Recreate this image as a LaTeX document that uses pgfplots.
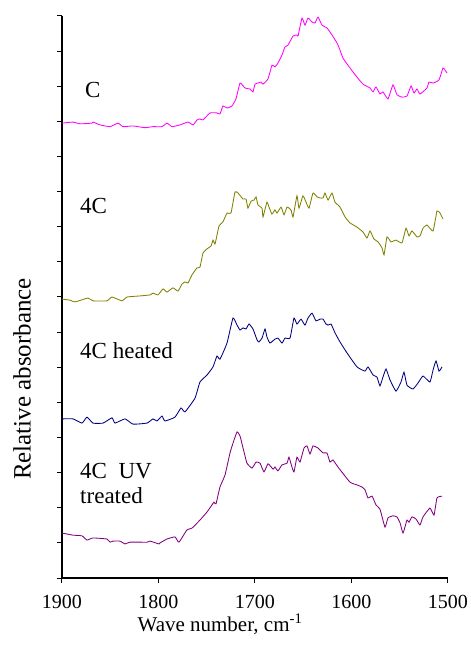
\documentclass[border=0pt]{standalone}
\usepackage{pgfplots}
\pgfplotsset{compat=1.18}
\usepackage{fontspec}
\setmainfont{Liberation Serif}

\definecolor{cC}{RGB}{255,0,255}
\definecolor{c4C}{RGB}{128,128,0}
\definecolor{cHeat}{RGB}{0,0,128}
\definecolor{cUV}{RGB}{128,0,128}

\begin{document}
\begin{tikzpicture}
\begin{axis}[
  scale only axis, width=386pt, height=562pt,
  x dir=reverse, xmin=1500, xmax=1900, ymin=0, ymax=16,
  axis x line*=bottom, axis y line*=left,
  axis line style={black, line width=1.3pt, -},
  xtick={1500,1600,1700,1800,1900},
  ytick={0,1,...,16}, yticklabels={},
  tick align=outside, major tick length=5pt,
  tick style={black, line width=1pt},
  /pgf/number format/assume math mode=true,
  /pgf/number format/1000 sep={},
  xticklabel style={font=\fontsize{20}{24}\selectfont, yshift=-9pt},
  every axis plot/.append style={line width=0.85pt, mark=none, smooth, tension=0.25},
  clip=false,
]
% C
\addplot[cC] coordinates {
(1900,12.95) (1888.6,12.98) (1881.3,12.93) (1868.9,12.95) (1867.9,12.98)
(1860.6,12.90) (1850.2,12.85) (1842.0,12.95) (1836.8,12.85) (1826.4,12.87)
(1814.0,12.82) (1805.7,12.85) (1796.4,12.85) (1791.2,12.95) (1786.0,12.85)
(1777.7,12.90) (1769.4,12.98) (1764.2,12.90) (1760.1,13.04) (1757.0,13.07)
(1753.9,13.04) (1746.6,13.24) (1739.4,13.24) (1736.3,13.21) (1733.2,13.44)
(1729.0,13.38) (1723.8,13.44) (1719.7,13.64) (1715.5,14.09) (1710.4,13.95)
(1705.2,13.92) (1702.1,13.84) (1700.0,14.06) (1696.9,14.09) (1693.8,14.12)
(1691.7,14.06) (1686.5,14.21) (1682.4,14.60) (1679.3,14.55) (1676.2,14.66)
(1672.0,14.89) (1668.9,15.12) (1665.8,15.17) (1660.6,15.43) (1656.5,15.46)
(1655.4,15.43) (1651.3,15.94) (1648.2,15.74) (1645.1,15.94) (1640.9,15.83)
(1637.8,15.80) (1634.7,15.97) (1630.6,15.74) (1625.4,15.66) (1620.2,15.46)
(1615.0,15.23) (1611.9,15.03) (1608.8,14.80) (1601.6,14.52) (1594.3,14.26)
(1588.1,14.06) (1580.8,13.95) (1577.7,13.84) (1574.6,13.98) (1570.5,13.78)
(1567.4,13.84) (1562.2,13.64) (1557.0,14.04) (1552.9,13.76) (1547.7,13.69)
(1542.5,13.72) (1538.3,14.01) (1535.2,13.81) (1532.1,13.92) (1529.0,13.78)
(1521.8,13.95) (1519.7,14.12) (1515.5,14.09) (1509.3,14.18) (1505.2,14.52)
(1503.1,14.46) (1501.0,14.38)
};
% 4C
\addplot[c4C] coordinates {
(1900,7.94) (1891.7,7.91) (1886.5,7.86) (1873.1,7.97) (1867.9,7.89)
(1853.4,7.89) (1848.2,8.00) (1837.8,7.89) (1832.6,8.00) (1819.2,8.03)
(1808.8,8.06) (1805.7,8.11) (1800.5,8.06) (1795.3,8.23) (1791.2,8.14)
(1785.0,8.26) (1779.8,8.17) (1775.6,8.37) (1772.5,8.43) (1769.4,8.40)
(1765.3,8.63) (1760.1,8.83) (1757.0,8.85) (1753.9,9.25) (1749.7,9.37)
(1745.6,9.45) (1743.5,9.62) (1741.4,9.51) (1737.3,10.02) (1733.2,10.14)
(1729.0,10.39) (1724.9,10.39) (1720.7,10.99) (1717.6,10.96) (1712.4,10.79)
(1709.3,10.79) (1707.3,10.53) (1704.1,10.73) (1701.0,10.76) (1698.9,10.85)
(1696.9,10.62) (1692.7,10.53) (1691.7,10.28) (1687.6,10.70) (1685.5,10.56)
(1682.4,10.36) (1679.3,10.48) (1677.2,10.39) (1673.0,10.56) (1669.9,10.34)
(1666.8,10.56) (1662.7,10.48) (1660.6,10.28) (1656.5,10.88) (1654.4,10.53)
(1650.3,10.88) (1647.1,10.70) (1644.0,10.53) (1639.9,10.96) (1635.7,10.85)
(1632.6,10.82) (1629.5,10.82) (1627.5,10.96) (1624.3,10.76) (1620.2,10.96)
(1617.1,10.70) (1611.9,10.56) (1606.7,10.28) (1601.6,10.11) (1594.3,9.99)
(1588.1,9.85) (1583.9,9.68) (1580.8,9.88) (1576.7,9.65) (1572.5,9.57)
(1568.4,9.40) (1566.3,9.20) (1563.2,9.71) (1559.1,9.57) (1553.9,9.62)
(1547.7,9.54) (1543.5,9.96) (1540.4,9.74) (1537.3,9.88) (1532.1,9.71)
(1529.0,9.74) (1525.9,9.96) (1521.8,10.05) (1515.5,9.88) (1511.4,10.45)
(1508.3,10.39) (1505.2,10.22)
};
% 4C heated
\addplot[cHeat] coordinates {
(1900,4.53) (1888.6,4.53) (1879.3,4.41) (1874.1,4.58) (1867.9,4.41)
(1857.5,4.41) (1848.2,4.56) (1845.1,4.41) (1834.7,4.53) (1826.4,4.38)
(1811.9,4.41) (1805.7,4.53) (1801.6,4.47) (1796.4,4.61) (1793.3,4.47)
(1782.9,4.58) (1776.7,4.84) (1772.5,4.73) (1762.2,5.12) (1757.0,5.58)
(1749.7,5.78) (1743.5,6.01) (1739.4,6.32) (1736.3,6.23) (1729.0,6.69)
(1722.8,7.40) (1718.6,7.20) (1715.5,7.06) (1712.4,7.12) (1709.3,7.09)
(1706.2,7.23) (1702.1,7.09) (1697.9,6.78) (1695.9,6.72) (1692.7,6.83)
(1689.6,7.09) (1687.6,6.86) (1684.5,6.69) (1679.3,6.80) (1676.2,6.83)
(1672.0,6.69) (1668.9,6.83) (1663.7,6.83) (1659.6,7.40) (1656.5,7.23)
(1652.3,7.37) (1648.2,7.20) (1645.1,7.40) (1640.9,7.54) (1636.8,7.32)
(1632.6,7.37) (1629.5,7.37) (1626.4,7.23) (1624.3,7.20) (1621.2,7.23)
(1617.1,6.98) (1611.9,6.72) (1604.7,6.41) (1594.3,6.01) (1586.0,5.89)
(1582.9,6.01) (1577.7,5.78) (1573.6,5.72) (1570.5,5.47) (1567.4,5.72)
(1564.2,5.95) (1560.1,5.64) (1553.9,5.32) (1548.7,5.58) (1545.6,5.86)
(1542.5,5.49) (1536.3,5.38) (1531.1,5.55) (1525.9,5.75) (1518.7,5.58)
(1515.5,5.92) (1512.4,6.18) (1509.3,5.89) (1506.2,6.01)
};
% 4C UV treated
\addplot[cUV] coordinates {
(1900,1.28) (1888.6,1.22) (1879.3,1.20) (1874.1,1.08) (1867.9,1.14)
(1853.4,1.11) (1850.2,1.02) (1847.1,1.05) (1839.9,1.05) (1834.7,0.97)
(1829.5,1.02) (1811.9,1.02) (1808.8,1.05) (1799.5,0.97) (1798.4,1.00)
(1791.2,1.11) (1782.9,1.17) (1778.8,1.02) (1770.5,1.37) (1765.3,1.42)
(1757.0,1.65) (1749.7,1.88) (1744.6,2.08) (1742.5,2.16) (1740.4,2.11)
(1736.3,2.59) (1731.1,2.93) (1725.9,3.56) (1722.8,3.84) (1718.6,4.16)
(1715.5,4.04) (1712.4,3.70) (1708.3,3.27) (1703.1,3.13) (1698.9,3.30)
(1694.8,3.27) (1690.7,3.02) (1686.5,3.25) (1681.3,3.10) (1679.3,3.16)
(1676.2,3.05) (1672.0,3.22) (1666.8,3.27) (1664.8,3.44) (1661.7,3.16)
(1659.6,3.02) (1656.5,3.44) (1653.4,3.30) (1649.2,3.70) (1646.1,3.76)
(1643.0,3.53) (1639.9,3.76) (1634.7,3.70) (1629.5,3.56) (1625.4,3.56)
(1622.3,3.30) (1619.2,3.36) (1614.0,3.16) (1601.6,2.73) (1594.3,2.65)
(1589.1,2.59) (1586.0,2.51) (1582.9,2.28) (1578.7,2.33) (1574.6,2.08)
(1570.5,1.96) (1565.3,1.45) (1562.2,1.71) (1557.0,1.77) (1552.9,1.74)
(1549.7,1.57) (1546.6,1.28) (1542.5,1.65) (1540.4,1.59) (1537.3,1.74)
(1533.2,1.68) (1529.0,1.51) (1525.9,1.74) (1518.7,1.99) (1514.5,1.79)
(1511.4,2.28) (1506.2,2.33)
};
% sample names
\begin{scope}[every node/.style={anchor=base west, inner sep=0pt, font=\fontsize{23}{25}\selectfont}]
\node at (axis cs:1876.2,13.67) {C};
\node at (axis cs:1881.3,10.39) {4C};
\node at (axis cs:1881.3,6.26) {4C heated};
\node at (axis cs:1881.3,2.83) {4C\ \ UV};
\node at (axis cs:1881.3,2.11) {treated};
\end{scope}
\end{axis}
% axis titles
\node[rotate=90, inner sep=0pt, font=\fontsize{25}{28}\selectfont] at (-40pt,199pt) {Relative absorbance};
\node[anchor=base, inner sep=0pt, font=\fontsize{21}{24}\selectfont] at (158pt,-53pt) {Wave number, cm\textsuperscript{-1}};
\pgfresetboundingbox
\path (-62pt,-70pt) rectangle (409pt,578pt);
\end{tikzpicture}
\end{document}
